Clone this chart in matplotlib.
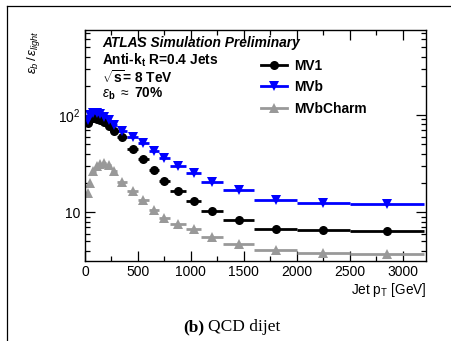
import matplotlib
matplotlib.use("Agg")
import matplotlib.pyplot as plt
from matplotlib.ticker import MultipleLocator, LogLocator, NullFormatter, FixedFormatter, FixedLocator
from matplotlib.lines import Line2D
import numpy as np

plt.rcParams["font.family"] = ["Liberation Sans", "DejaVu Sans"]
plt.rcParams["mathtext.fontset"] = "custom"
plt.rcParams["mathtext.rm"] = "Liberation Sans"
plt.rcParams["mathtext.it"] = "Liberation Sans:italic"
plt.rcParams["mathtext.bf"] = "Liberation Sans:bold"

# --------------------------------------------------
# Data
# --------------------------------------------------

bin_edges = [20, 40, 60, 100, 130, 160, 200, 250, 300, 400, 500, 600,
             700, 800, 950, 1100, 1300, 1600, 2000, 2500, 3200]

mv1 = [82, 90, 93, 92, 89, 84, 77, 68, 60, 45, 35, 27, 21, 16.6,
       13.1, 10.2, 8.3, 6.75, 6.5, 6.4]
mvb = [88, 100, 106, 106, 103, 96, 88, 79, 69, 60, 51, 43, 36, 30,
       25.2, 20.5, 16.9, 13.3, 12.5, 12.1]
mvbcharm = [15.8, 19.8, 26.7, 29.8, 31.3, 32.3, 30.4, 26.7, 20.5, 16.6,
            13.3, 10.6, 8.7, 7.6, 6.65, 5.55, 4.75, 4.04, 3.8, 3.75]

y_ticks = [10, 100]
y_ticklabels = ["10", r"10$^2$"]

series = [
    ("MV1", mv1, "black", "o", 6.5),
    ("MVb", mvb, "#0000ff", "v", 7),
    ("MVbCharm", mvbcharm, "#999999", "^", 7),
]

edges = np.array(bin_edges, dtype=float)
centers = 0.5 * (edges[1:] + edges[:-1])
half = 0.5 * (edges[1:] - edges[:-1])

# --------------------------------------------------
# Figure
# --------------------------------------------------

fig = plt.figure(figsize=(4.51, 3.41), dpi=100)
ax = fig.add_axes([85 / 451, 1 - 261 / 341, 341 / 451, 231 / 341])

handles = []
for name, vals, col, mk, ms in series:
    ax.errorbar(centers, vals, xerr=half, fmt=mk, color=col, ms=ms,
                elinewidth=2.0, capsize=0, mew=0)
    handles.append(Line2D([0], [0], color=col, marker=mk, ms=ms, lw=2.0,
                          mew=0, label=name))

ax.set_yscale("log")
ax.set_xlim(0, 3220)
ax.set_ylim(3.15, 750)

ax.xaxis.set_major_locator(MultipleLocator(500))
ax.xaxis.set_minor_locator(MultipleLocator(250))
ax.yaxis.set_major_locator(FixedLocator(y_ticks))
ax.yaxis.set_major_formatter(FixedFormatter(y_ticklabels))
ax.yaxis.set_minor_locator(LogLocator(base=10, subs=np.arange(2, 10)))
ax.yaxis.set_minor_formatter(NullFormatter())

ax.tick_params(which="both", direction="in", top=True, right=True,
               labelsize=10, width=0.9)
ax.tick_params(which="major", length=7, pad=3)
ax.tick_params(which="minor", length=3.5)
for s in ax.spines.values():
    s.set_linewidth(1.0)

ax.set_xlabel(r"Jet p$_\mathrm{T}$ [GeV]", fontsize=9.8, loc="right",
              labelpad=1)
fig.text(33 / 451, 1 - 30 / 341, r"$\epsilon_b\,/\,\epsilon_{light}$",
         rotation=90, ha="center", va="top", fontsize=9.5)

# --------------------------------------------------
# Labels
# --------------------------------------------------

ax.text(0.05, 0.945, "ATLAS Simulation Preliminary", transform=ax.transAxes,
        fontsize=9.9, fontweight="bold", fontstyle="italic", va="center")
ax.text(0.05, 0.87, r"Anti-k$_\mathbf{t}$ R=0.4 Jets", transform=ax.transAxes,
        fontsize=9.9, fontweight="bold", va="center")
ax.text(0.05, 0.795, r"$\sqrt{\mathbf{s}}$= 8 TeV", transform=ax.transAxes,
        fontsize=9.9, fontweight="bold", va="center")
ax.text(0.05, 0.725, r"$\epsilon_\mathbf{b}$ $\approx$ 70%",
        transform=ax.transAxes, fontsize=9.9, fontweight="bold", va="center")

leg = ax.legend(handles=handles, loc="upper left",
                bbox_to_anchor=(0.48, 0.93), frameon=False,
                prop={"weight": "bold", "size": 9.9}, handlelength=1.9,
                handletextpad=0.5, labelspacing=0.55)

# caption and page frame
fig.text(204 / 451, 1 - 327 / 341, "(b)", ha="right", va="center",
         fontsize=12.5, family="Liberation Serif", fontweight="bold")
fig.text(208 / 451, 1 - 327 / 341, "QCD dijet", ha="left", va="center",
         fontsize=12.5, family="Liberation Serif")
fig.add_artist(Line2D([7 / 451, 7 / 451], [0, 1 - 6 / 341],
                      transform=fig.transFigure, color="black", lw=0.9))
fig.add_artist(Line2D([7 / 451, 1], [1 - 6 / 341, 1 - 6 / 341],
                      transform=fig.transFigure, color="black", lw=0.9))

fig.savefig("out.png", dpi=100)
